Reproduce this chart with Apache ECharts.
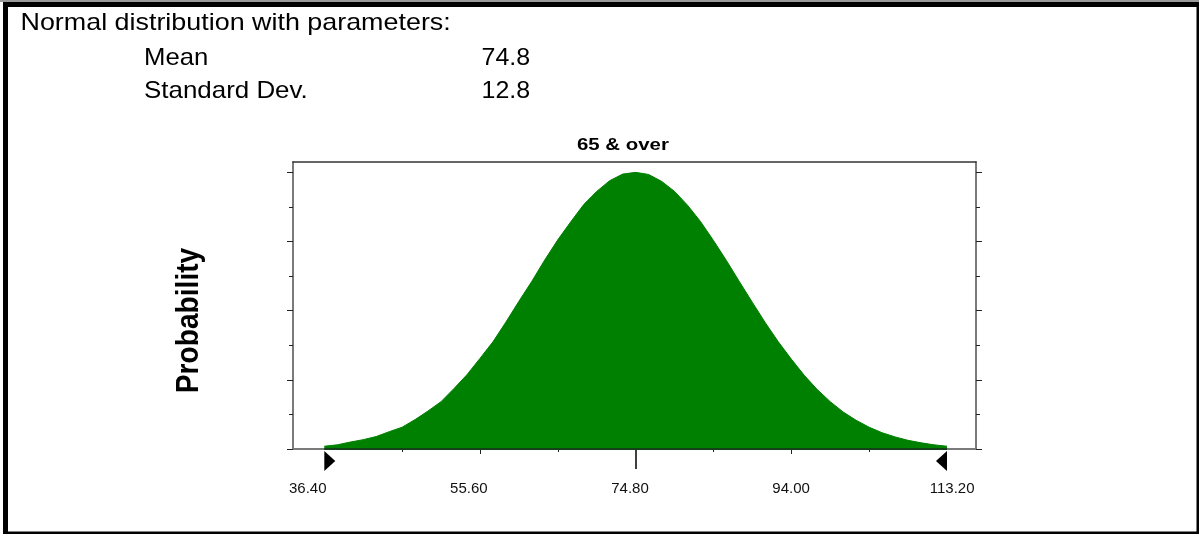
<!DOCTYPE html>
<html>
<head>
<meta charset="utf-8">
<script src="https://cdn.jsdelivr.net/npm/echarts@6/dist/echarts.min.js"></script>
<style>
  html, body { margin: 0; padding: 0; background: #fff; }
  #chart { width: 1199px; height: 534px; }
</style>
</head>
<body>
<div id="chart"></div>
<script>
// distribution parameters shown in the header
const paramNames = ["Mean", "Standard Dev."];
const paramValues = ["74.8", "12.8"];
const chartTitle = "65 & over";

// curve (y in tick units, top tick = 8)
const curveX = [
  36.4, 38.0, 39.6, 41.2, 42.8, 44.4, 46.0, 47.6, 49.2, 50.8, 52.4, 54.0, 55.6,
  57.2, 58.8, 60.4, 62.0, 63.6, 65.2, 66.8, 68.4, 70.0, 71.6, 73.2, 74.8,
  76.4, 78.0, 79.6, 81.2, 82.8, 84.4, 86.0, 87.6, 89.2, 90.8, 92.4, 94.0,
  95.6, 97.2, 98.8, 100.4, 102.0, 103.6, 105.2, 106.8, 108.4, 110.0, 111.6, 113.2
];
const curveY = [
  0.08, 0.12, 0.2, 0.27, 0.36, 0.5, 0.63, 0.85, 1.1, 1.37, 1.75, 2.15, 2.62,
  3.1, 3.67, 4.27, 4.85, 5.47, 6.05, 6.57, 7.07, 7.45, 7.76, 7.95, 8.0,
  7.94, 7.74, 7.45, 7.05, 6.58, 6.03, 5.45, 4.84, 4.24, 3.65, 3.1, 2.6,
  2.13, 1.72, 1.37, 1.07, 0.83, 0.63, 0.47, 0.35, 0.25, 0.18, 0.12, 0.08
];

// axis ticks and labels
const minorTicksX = [46.0, 65.2, 84.4, 103.6];
const midTicksX = [55.6, 94.0];
const meanTickX = [74.8];
const labelsX = [36.4, 55.6, 74.8, 94.0, 113.2];
const majorTicksY = [0, 2, 4, 6, 8];
const minorTicksY = [1, 3, 5, 7];
// range markers: [x, direction]
const rangeMarkers = [[36.4, 1], [113.2, -1]];

const FONT = "'Liberation Sans', Arial, sans-serif";
const X_MIN = 32.54, X_MAX = 116.78;

const chart = echarts.init(document.getElementById("chart"));

const hiddenX = (extra) => Object.assign({
  type: "value", min: X_MIN, max: X_MAX, position: "bottom",
  axisLine: { show: false }, splitLine: { show: false },
  axisLabel: { show: false }, axisTick: { show: false },
}, extra);

const yAx = (position, ticks, len, line) => ({
  type: "value", min: 0, max: 8.3, position: position,
  axisLine: { show: line, lineStyle: { color: "#7a7a7a", width: 2 } },
  axisTick: { show: true, customValues: ticks, length: len, lineStyle: { color: "#222", width: 1 } },
  axisLabel: { show: false }, splitLine: { show: false },
});

const option = {
  backgroundColor: "#fff",
  animation: false,
  grid: { left: 293, right: 223, top: 162, bottom: 85, outerBoundsMode: "none" },
  xAxis: [
    hiddenX({
      axisLine: { show: true, lineStyle: { color: "#7a7a7a", width: 2 } },
      axisTick: { show: true, customValues: minorTicksX, length: 3, lineStyle: { color: "#222" } },
    }),
    hiddenX({ axisTick: { show: true, customValues: midTicksX, length: 5, lineStyle: { color: "#222" } } }),
    hiddenX({ axisTick: { show: true, customValues: meanTickX, length: 20, lineStyle: { color: "#000", width: 1.5 } } }),
    {
      type: "value", min: 34.64, max: 116.04, position: "bottom",
      axisLine: { show: false }, axisTick: { show: false }, splitLine: { show: false },
      axisLabel: {
        show: true, customValues: labelsX, margin: 32,
        formatter: (v) => v.toFixed(2),
        fontFamily: FONT, fontSize: 15, color: "#111",
      },
    },
    hiddenX({ position: "top", axisLine: { show: true, lineStyle: { color: "#333", width: 1.5 } } }),
  ],
  yAxis: [
    yAx("left", majorTicksY, 6, true),
    yAx("left", minorTicksY, 4, false),
    yAx("right", majorTicksY, 6, true),
    yAx("right", minorTicksY, 4, false),
  ],
  series: [
    {
      type: "line",
      data: curveX.map((x, i) => [x, curveY[i]]),
      showSymbol: false,
      lineStyle: { color: "#008000", width: 1 },
      areaStyle: { color: "#008000", opacity: 1 },
      z: 2,
    },
    {
      type: "line",
      data: [[labelsX[0], 0], [labelsX[labelsX.length - 1], 0]],
      showSymbol: false,
      lineStyle: { color: "#14401a", width: 2 },
      z: 3,
    },
    {
      type: "custom",
      data: rangeMarkers,
      z: 4,
      renderItem: (params, api) => {
        const p = api.coord([api.value(0), 0]);
        const d = api.value(1);
        return {
          type: "polygon",
          shape: { points: [[p[0], p[1] + 2], [p[0], p[1] + 22], [p[0] + d * 11, p[1] + 12]] },
          style: { fill: "#000" },
        };
      },
    },
  ],
  graphic: [
    // outer frame
    { type: "rect", shape: { x: 0, y: 0, width: 1199, height: 2 }, style: { fill: "#9a9a9a" } },
    { type: "rect", shape: { x: 3, y: 2, width: 1196, height: 5 }, style: { fill: "#000" } },
    { type: "rect", shape: { x: 3, y: 2, width: 5, height: 532 }, style: { fill: "#000" } },
    { type: "rect", shape: { x: 1196.5, y: 2, width: 2.5, height: 532 }, style: { fill: "#000" } },
    { type: "rect", shape: { x: 3, y: 531.5, width: 1196, height: 2.5 }, style: { fill: "#000" } },
    // header
    {
      type: "text", x: 20.5, y: 23.5, scaleX: 1.12,
      style: { text: "Normal distribution with parameters:", fontFamily: FONT, fontSize: 24, fill: "#000", align: "left", verticalAlign: "middle" },
    },
    {
      type: "text", x: 144, y: 58.5, scaleX: 1.07,
      style: { text: paramNames[0], fontFamily: FONT, fontSize: 24, fill: "#000", align: "left", verticalAlign: "middle" },
    },
    {
      type: "text", x: 144, y: 91.5, scaleX: 1.08,
      style: { text: paramNames[1], fontFamily: FONT, fontSize: 24, fill: "#000", align: "left", verticalAlign: "middle" },
    },
    {
      type: "text", x: 481.5, y: 58.5, scaleX: 1.04,
      style: { text: paramValues[0], fontFamily: FONT, fontSize: 24, fill: "#000", align: "left", verticalAlign: "middle" },
    },
    {
      type: "text", x: 481.5, y: 91.5, scaleX: 1.04,
      style: { text: paramValues[1], fontFamily: FONT, fontSize: 24, fill: "#000", align: "left", verticalAlign: "middle" },
    },
    // chart title
    {
      type: "text", x: 577, y: 145, scaleX: 1.2,
      style: { text: chartTitle, fontFamily: FONT, fontSize: 17, fontWeight: "bold", fill: "#000", align: "left", verticalAlign: "middle" },
    },
    // y axis name
    {
      type: "text", x: 189, y: 320.5, rotation: Math.PI / 2, scaleX: 0.88,
      style: { text: "Probability", fontFamily: FONT, fontSize: 32, fontWeight: "bold", fill: "#000", align: "center", verticalAlign: "middle" },
    },
  ],
};

chart.setOption(option);
</script>
</body>
</html>
